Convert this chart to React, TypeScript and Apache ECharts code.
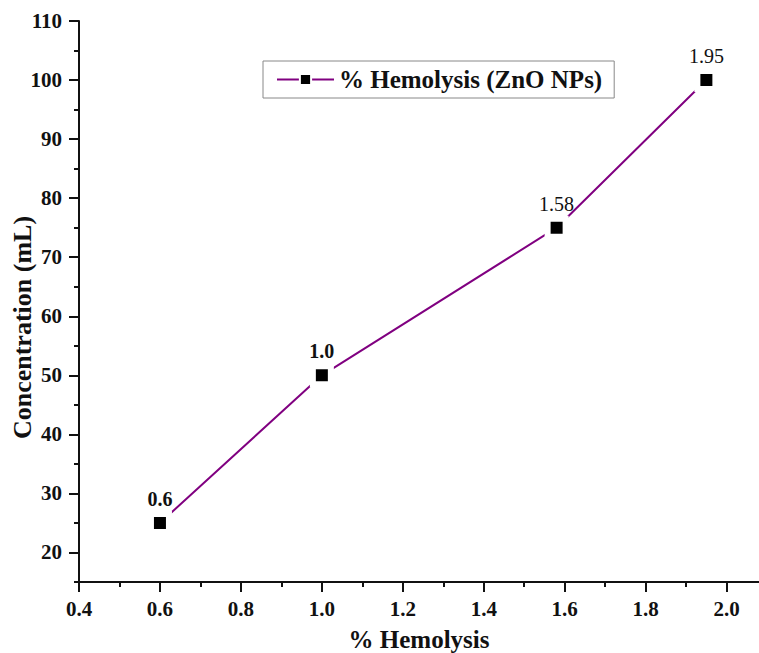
import React, { useEffect, useRef } from "react";
import * as echarts from "echarts";

const hemolysis = [0.6, 1.0, 1.58, 1.95];
const concentration = [25, 50, 75, 100];
const pointLabels = ["0.6", "1.0", "1.58", "1.95"];
const xMajorTicks = [0.4, 0.6, 0.8, 1.0, 1.2, 1.4, 1.6, 1.8, 2.0];
const xMinorTicks = [0.5, 0.7, 0.9, 1.1, 1.3, 1.5, 1.7, 1.9];
const yMajorTicks = [20, 30, 40, 50, 60, 70, 80, 90, 100, 110];
const yMinorTicks = [15, 25, 35, 45, 55, 65, 75, 85, 95, 105];
const seriesName = "% Hemolysis (ZnO NPs)";

const FONT = "'Liberation Serif', 'Times New Roman', serif";

export default function App() {
  const ref = useRef<HTMLDivElement>(null);
  useEffect(() => {
    if (!ref.current) return;
    const chart = echarts.init(ref.current, null, { renderer: "svg" });
    const axisLine = { show: true, lineStyle: { color: "#111", width: 2 } };
    chart.setOption({
      animation: false,
      backgroundColor: "#fff",
      textStyle: { fontFamily: FONT },
      grid: { left: 79, top: 21, right: 0, bottom: 71, outerBoundsMode: "none" },
      legend: {
        data: [seriesName],
        left: 263,
        top: 61,
        padding: [6, 12, 6, 13],
        borderColor: "#888",
        borderWidth: 1,
        itemWidth: 57,
        itemHeight: 14,
        textStyle: { fontFamily: FONT, fontSize: 25, fontWeight: "bold", color: "#111" },
      },
      xAxis: [
        {
          type: "value",
          min: 0.4,
          max: 2.08,
          position: "bottom",
          name: "% Hemolysis",
          nameLocation: "middle",
          nameGap: 45,
          nameMoveOverlap: false,
          nameTextStyle: { fontFamily: FONT, fontSize: 25, fontWeight: "bold", color: "#111" },
          axisLine,
          splitLine: { show: false },
          axisTick: { show: true, inside: false, length: 10, customValues: xMajorTicks, lineStyle: { color: "#111", width: 2 } },
          axisLabel: {
            customValues: xMajorTicks,
            formatter: (v: number) => v.toFixed(1),
            margin: 16,
            fontFamily: FONT,
            fontSize: 21,
            fontWeight: "bold",
            color: "#111",
          },
        },
        {
          type: "value",
          min: 0.4,
          max: 2.08,
          position: "bottom",
          offset: 0,
          axisLine: { show: false },
          splitLine: { show: false },
          axisLabel: { show: false },
          axisTick: { show: true, length: 5, customValues: xMinorTicks, lineStyle: { color: "#111", width: 2 } },
        },
      ],
      yAxis: [
        {
          type: "value",
          min: 15,
          max: 110,
          position: "left",
          name: "Concentration (mL)",
          nameLocation: "middle",
          nameGap: 44,
          nameMoveOverlap: false,
          nameTextStyle: { fontFamily: FONT, fontSize: 26, fontWeight: "bold", color: "#111", padding: [0, 52, 0, 0] },
          axisLine,
          splitLine: { show: false },
          axisTick: { show: true, length: 10, customValues: yMajorTicks, lineStyle: { color: "#111", width: 2 } },
          axisLabel: {
            customValues: yMajorTicks,
            margin: 17,
            fontFamily: FONT,
            fontSize: 21,
            fontWeight: "bold",
            color: "#111",
          },
        },
        {
          type: "value",
          min: 15,
          max: 110,
          position: "left",
          offset: 0,
          axisLine: { show: false },
          splitLine: { show: false },
          axisLabel: { show: false },
          axisTick: { show: true, length: 5, customValues: yMinorTicks, lineStyle: { color: "#111", width: 2 } },
        },
      ],
      series: [
        {
          name: seriesName,
          type: "line",
          xAxisIndex: 0,
          yAxisIndex: 0,
          data: hemolysis.map((x, i) => [x, concentration[i]]),
          symbol: "rect",
          symbolSize: 18,
          lineStyle: { color: "#800080", width: 2 },
          itemStyle: { color: "#000", borderColor: "#fff", borderWidth: 6 },
          label: {
            show: true,
            position: "top",
            distance: 2,
            formatter: (p: any) =>
              p.dataIndex < 2 ? `{b|${pointLabels[p.dataIndex]}}` : `{n|${pointLabels[p.dataIndex]}}`,
            rich: {
              b: { fontFamily: FONT, fontSize: 20, fontWeight: "bold", color: "#111" },
              n: { fontFamily: FONT, fontSize: 20, fontWeight: "normal", color: "#111" },
            },
          },
          emphasis: { disabled: true },
        },
      ],
    });
    return () => chart.dispose();
  }, []);
  return (
    <div
      ref={ref}
      style={{ position: "absolute", left: 0, top: 0, width: 759, height: 653 }}
    />
  );
}
